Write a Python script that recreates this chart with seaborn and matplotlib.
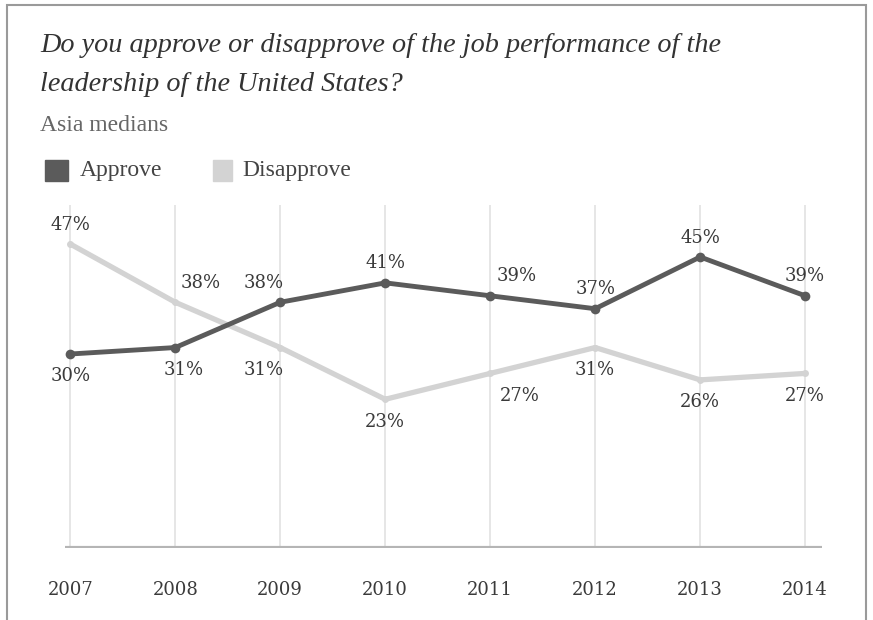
import pandas as pd
import matplotlib.pyplot as plt
import seaborn as sns
from matplotlib.patches import Rectangle

# data
years = ["2007", "2008", "2009", "2010", "2011", "2012", "2013", "2014"]
approve = [30, 31, 38, 41, 39, 37, 45, 39]
disapprove = [47, 38, 31, 23, 27, 31, 26, 27]

# label placement: +1 above point, -1 below point, plus small sideways nudges (pt)
approve_pos = [-1, -1, 1, 1, 1, 1, 1, 1]
disapprove_pos = [1, 1, -1, -1, -1, -1, -1, -1]
approve_dx = [0, 6, -12, 0, 19, 0, 0, 0]
disapprove_dx = [0, 18, -12, 0, 21, 0, 0, 0]

df = pd.DataFrame({
    "year": list(range(len(years))) * 2,
    "value": approve + disapprove,
    "series": ["Approve"] * len(years) + ["Disapprove"] * len(years),
})

sns.set_style("white")
plt.rcParams["font.family"] = ["Liberation Serif", "DejaVu Serif"]

dark = "#5b5b5b"
light = "#d3d3d3"
num_font = "DejaVu Serif"

fig = plt.figure(figsize=(8.73, 6.2), dpi=100)
ax = fig.add_axes([0.0745, 0.116, 0.867, 0.553])

# vertical grid lines at each year
for i in range(len(years)):
    ax.axvline(i, color="#e4e4e4", lw=1.3, zorder=0)

sns.lineplot(data=df[df.series == "Disapprove"], x="year", y="value", color=light,
             lw=3.8, marker="o", markersize=5, markeredgewidth=0, ax=ax, zorder=2)
sns.lineplot(data=df[df.series == "Approve"], x="year", y="value", color=dark,
             lw=3.5, marker="o", markersize=7, markeredgewidth=0, ax=ax, zorder=3)

ax.axhline(0, color="#b5b5b5", lw=3, zorder=1)

ax.set_xlim(-0.05, 7.16)
ax.set_ylim(0, 53)
ax.set_xticks(range(len(years)))
ax.set_xticklabels(years, fontsize=13, color="#3a3a3a", family=num_font)
ax.tick_params(axis="x", length=0, pad=24)
ax.set_yticks([])
ax.set_xlabel("")
ax.set_ylabel("")
for s in ax.spines.values():
    s.set_visible(False)

def put_labels(vals, pos, dxs):
    for i, (v, p, dx) in enumerate(zip(vals, pos, dxs)):
        dy = 14 if p > 0 else -16
        ax.annotate(f"{v}%", (i, v), xytext=(dx, dy), textcoords="offset points",
                    ha="center", va="center", fontsize=13, color="#3a3a3a",
                    family=num_font)

put_labels(approve, approve_pos, approve_dx)
put_labels(disapprove, disapprove_pos, disapprove_dx)

# title, subtitle, legend
fig.text(0.046, 0.927, "Do you approve or disapprove of the job performance of the",
         fontsize=20.3, style="italic", color="#333333", va="center")
fig.text(0.046, 0.863, "leadership of the United States?",
         fontsize=20.3, style="italic", color="#333333", va="center")
fig.text(0.046, 0.798, "Asia medians", fontsize=17, color="#666666", va="center")

fig.patches.append(Rectangle((0.052, 0.708), 0.026, 0.034, transform=fig.transFigure,
                             color=dark))
fig.text(0.091, 0.725, "Approve", fontsize=17, color="#444444", va="center")
fig.patches.append(Rectangle((0.244, 0.708), 0.022, 0.034, transform=fig.transFigure,
                             color=light))
fig.text(0.278, 0.725, "Disapprove", fontsize=17, color="#444444", va="center")

# outer frame
fig.patches.append(Rectangle((0.008, -0.1), 0.984, 1.092, transform=fig.transFigure,
                             fill=False, edgecolor="#9a9a9a", lw=1.5))

fig.savefig("out.png", dpi=100)
